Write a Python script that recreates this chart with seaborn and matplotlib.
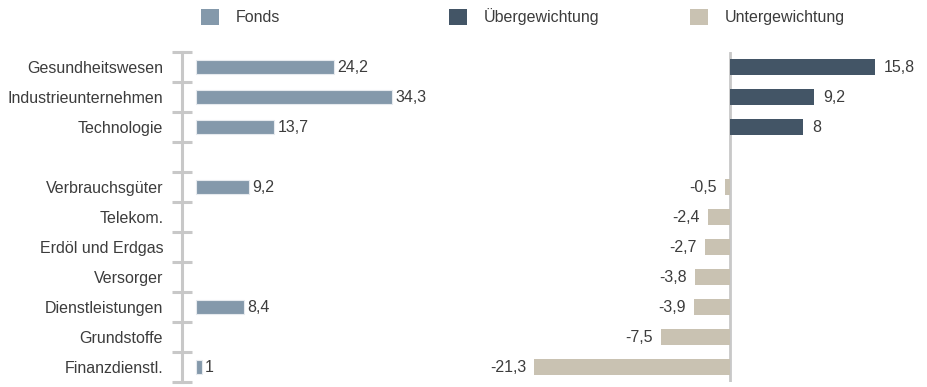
import numpy as np
import pandas as pd
import matplotlib
matplotlib.use("Agg")
import matplotlib.pyplot as plt
import seaborn as sns
from matplotlib.patches import Patch

# ---------------- data ----------------
categories = ["Gesundheitswesen", "Industrieunternehmen", "Technologie", "",
              "Verbrauchsgüter", "Telekom.", "Erdöl und Erdgas", "Versorger",
              "Dienstleistungen", "Grundstoffe", "Finanzdienstl."]
fonds = [24.2, 34.3, 13.7, None, 9.2, None, None, None, 8.4, None, 1.0]
relative = [15.8, 9.2, 8.0, None, -0.5, -2.4, -2.7, -3.8, -3.9, -7.5, -21.3]
legend_labels = ["Fonds", "Übergewichtung", "Untergewichtung"]

# ---------------- style ----------------
sns.set_style("white")
plt.rcParams["font.family"] = ["Liberation Sans", "DejaVu Sans"]
FS = 11.5
TXT = "#3c3c3c"
C_FONDS = "#8499ab"
C_OVER = "#435566"
C_UNDER = "#c9c2b2"
GRID = "#c8c8c8"

W, H = 927, 387
fig = plt.figure(figsize=(W / 100, H / 100), dpi=100)

top_px, bot_px = 52, 382
ax_b = (H - bot_px) / H
ax_h = (bot_px - top_px) / H
axL = fig.add_axes([182 / W, ax_b, (450 - 182) / W, ax_h])
axR = fig.add_axes([480 / W, ax_b, (927 - 480) / W, ax_h])

fmt = lambda v: f"{v:g}".replace(".", ",")

# ---------------- left panel ----------------
dfL = pd.DataFrame({"cat": categories, "val": fonds}).dropna()
sns.barplot(data=dfL, x="val", y="cat", order=categories, color=C_FONDS,
            width=0.47, edgecolor="#e6eaee", linewidth=0.8, saturation=1,
            ax=axL, orient="h")
for c in axL.containers:
    axL.bar_label(c, fmt=fmt, padding=2.5, fontsize=FS, color=TXT)

px_per_unit_L = 5.71
axL.set_xlim(-14 / px_per_unit_L, -14 / px_per_unit_L + (450 - 182) / px_per_unit_L)
axL.set_ylim(len(categories) - 0.5, -0.5)
axL.set_xlabel("")
axL.set_ylabel("")
axL.set_xticks([])
for s in ["top", "right", "bottom"]:
    axL.spines[s].set_visible(False)
axL.spines["left"].set_color(GRID)
axL.spines["left"].set_linewidth(2.2)
axL.set_yticks(np.arange(len(categories)))
axL.set_yticklabels(categories, fontsize=FS, color=TXT)
axL.set_yticks(np.arange(len(categories) + 1) - 0.5, minor=True)
axL.tick_params(axis="y", which="major", left=True, length=0, pad=13.5)
axL.tick_params(axis="y", which="minor", left=True, direction="inout",
                length=14, width=2.2, color=GRID)

# ---------------- right panel ----------------
dfR = pd.DataFrame({"cat": categories, "val": relative}).dropna()
dfR["typ"] = np.where(dfR["val"] > 0, legend_labels[1], legend_labels[2])
sns.barplot(data=dfR, x="val", y="cat", order=categories, hue="typ",
            hue_order=[legend_labels[1], legend_labels[2]],
            palette={legend_labels[1]: C_OVER, legend_labels[2]: C_UNDER},
            dodge=False, width=0.53, saturation=1, linewidth=0,
            legend=False, ax=axR, orient="h")
for c in axR.containers:
    axR.bar_label(c, fmt=fmt, padding=6, fontsize=FS, color=TXT)

px_per_unit_R = 9.18
axR.set_xlim((480 - 730) / px_per_unit_R, (927 - 730) / px_per_unit_R)
axR.set_ylim(len(categories) - 0.5, -0.5)
axR.axvline(0, color=GRID, lw=2, zorder=0.5)
axR.set_xlabel("")
axR.set_ylabel("")
axR.set_xticks([])
axR.set_yticks([])
for s in axR.spines.values():
    s.set_visible(False)

# ---------------- legend ----------------
leg_x = [201, 449, 690]
leg_colors = [C_FONDS, C_OVER, C_UNDER]
for x, lab, col in zip(leg_x, legend_labels, leg_colors):
    lg = fig.legend(handles=[Patch(facecolor=col, edgecolor="none", label=lab)],
                    loc="center left", bbox_to_anchor=(x / W, 1 - 17 / H),
                    frameon=False, fontsize=FS, handlelength=1.1,
                    handleheight=1.2, handletextpad=1.1, borderpad=0,
                    borderaxespad=0)
    for t in lg.get_texts():
        t.set_color(TXT)

fig.savefig("out.png", dpi=100)
